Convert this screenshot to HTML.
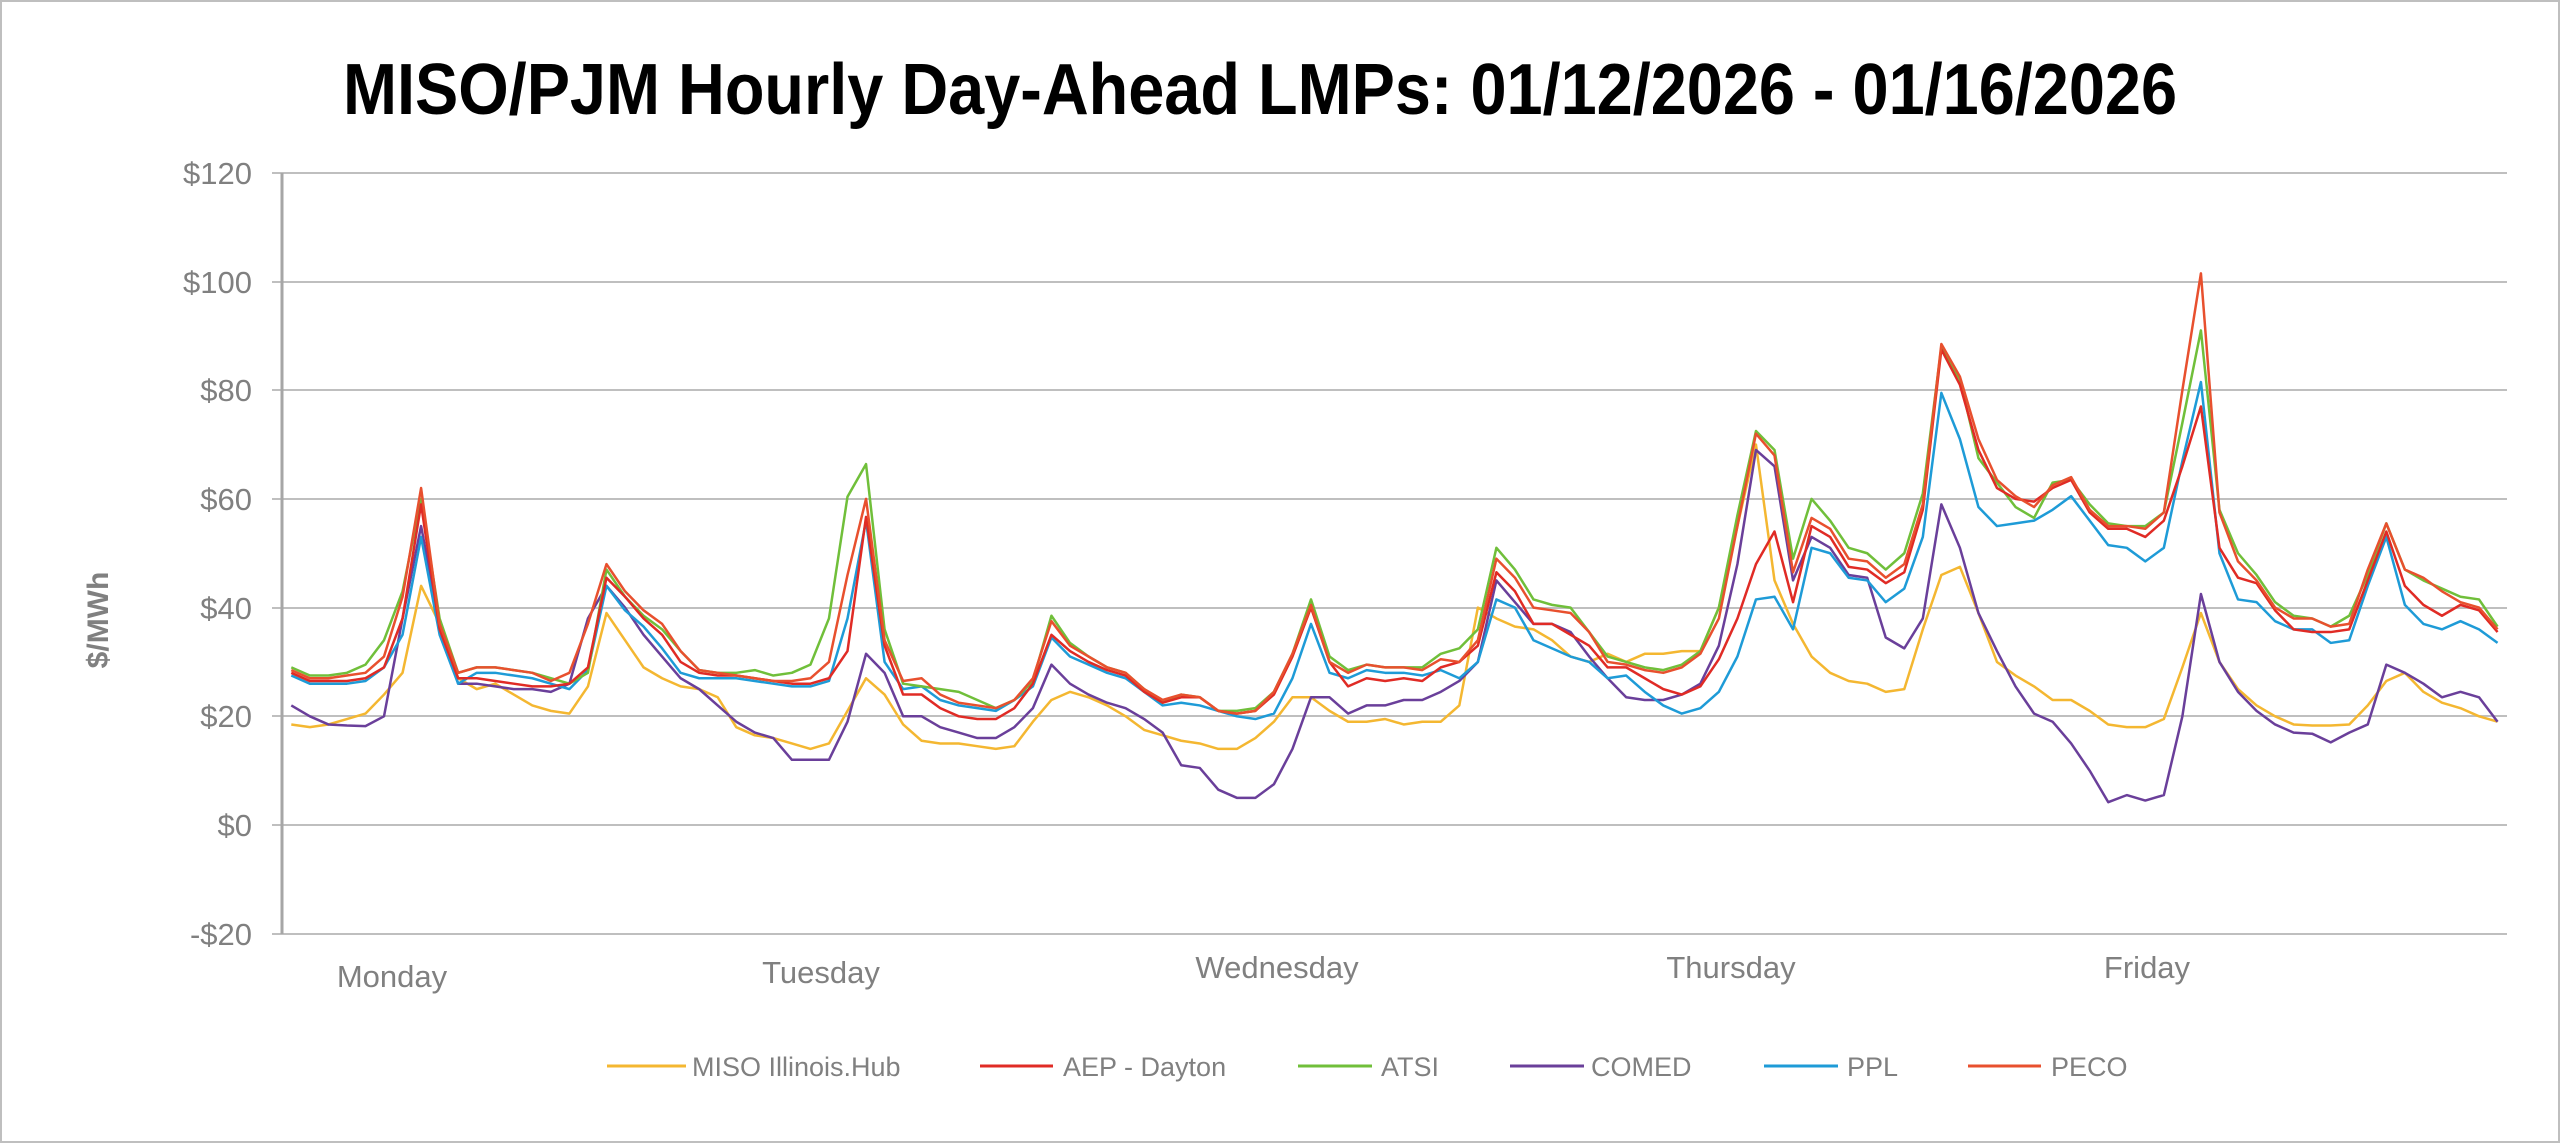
<!DOCTYPE html>
<html><head><meta charset="utf-8"><style>
html,body{margin:0;padding:0;background:#fff}
svg{display:block}
text{font-family:"Liberation Sans",sans-serif}
</style></head><body>
<svg width="2560" height="1143" viewBox="0 0 2560 1143" xmlns="http://www.w3.org/2000/svg">
<rect x="1" y="1" width="2558" height="1141" fill="#fff" stroke="#bfbfbf" stroke-width="2"/>
<text x="1260" y="114" text-anchor="middle" font-size="72" font-weight="bold" fill="#000" textLength="1834" lengthAdjust="spacingAndGlyphs">MISO/PJM Hourly Day-Ahead LMPs: 01/12/2026 - 01/16/2026</text>
<g stroke="#bfbfbf" stroke-width="2">
<line x1="272" y1="173" x2="2507" y2="173"/>
<line x1="272" y1="282" x2="2507" y2="282"/>
<line x1="272" y1="390" x2="2507" y2="390"/>
<line x1="272" y1="499" x2="2507" y2="499"/>
<line x1="272" y1="608" x2="2507" y2="608"/>
<line x1="272" y1="716" x2="2507" y2="716"/>
<line x1="272" y1="825" x2="2507" y2="825"/>
<line x1="272" y1="934" x2="2507" y2="934"/>
</g>
<line x1="282" y1="173" x2="282" y2="934" stroke="#a6a6a6" stroke-width="3"/>
<g font-size="31" fill="#808080" text-anchor="end">
<text x="252" y="184">$120</text>
<text x="252" y="293">$100</text>
<text x="252" y="401">$80</text>
<text x="252" y="510">$60</text>
<text x="252" y="619">$40</text>
<text x="252" y="727">$20</text>
<text x="252" y="836">$0</text>
<text x="252" y="945">-$20</text>
</g>
<text transform="translate(108,620) rotate(-90)" text-anchor="middle" font-size="30" font-weight="bold" fill="#808080">$/MWh</text>
<g font-size="31" fill="#808080" text-anchor="middle">
<text x="392" y="987">Monday</text>
<text x="821" y="983">Tuesday</text>
<text x="1277" y="978">Wednesday</text>
<text x="1731" y="978">Thursday</text>
<text x="2147" y="978">Friday</text>
</g>
<g transform="translate(291.3,825) scale(18.54,-5.435)" fill="none" stroke-linejoin="round">
<polyline vector-effect="non-scaling-stroke" stroke="#F4B731" stroke-width="2.5" points="0,18.5 1,18 2,18.5 3,19.5 4,20.5 5,24 6,28 7,44 8,37 9,27 10,25 11,26 12,24 13,22 14,21 15,20.5 16,25.5 17,39 18,34 19,29 20,27 21,25.5 22,25 23,23.5 24,18 25,16.5 26,16 27,15 28,14 29,15 30,21 31,27 32,24 33,18.5 34,15.5 35,15 36,15 37,14.5 38,14 39,14.5 40,19 41,23 42,24.5 43,23.5 44,22 45,20 46,17.5 47,16.5 48,15.5 49,15 50,14 51,14 52,16 53,19 54,23.5 55,23.5 56,21 57,19 58,19 59,19.5 60,18.5 61,19 62,19 63,22 64,40 65,38 66,36.5 67,36 68,34 69,31 70,30 71,31.5 72,30 73,31.5 74,31.5 75,32 76,32 77,40 78,55 79,70 80,45 81,37 82,31 83,28 84,26.5 85,26 86,24.5 87,25 88,36 89,46 90,47.5 91,39 92,30 93,27.5 94,25.5 95,23 96,23 97,21 98,18.5 99,18 100,18 101,19.5 102,29 103,39 104,30 105,25 106,22 107,20 108,18.5 109,18.3 110,18.3 111,18.5 112,22 113,26.5 114,28 115,24.5 116,22.5 117,21.5 118,20 119,19"/>
<polyline vector-effect="non-scaling-stroke" stroke="#6A3F9A" stroke-width="2.5" points="0,22 1,20 2,18.5 3,18.3 4,18.2 5,20 6,38 7,55 8,37 9,26 10,26 11,25.5 12,25 13,25 14,24.5 15,26 16,38 17,44 18,40 19,35 20,31 21,27 22,25 23,22 24,19 25,17 26,16 27,12 28,12 29,12 30,19 31,31.5 32,28 33,20 34,20 35,18 36,17 37,16 38,16 39,18 40,21.5 41,29.5 42,26 43,24 44,22.5 45,21.5 46,19.5 47,17 48,11 49,10.5 50,6.5 51,5 52,5 53,7.5 54,14 55,23.5 56,23.5 57,20.5 58,22 59,22 60,23 61,23 62,24.5 63,26.5 64,30 65,45 66,41 67,37 68,37 69,35.5 70,31 71,27 72,23.5 73,23 74,23 75,24 76,26 77,33 78,48 79,69 80,66 81,45 82,53 83,51 84,46 85,45.5 86,34.5 87,32.5 88,38 89,59 90,51 91,39 92,32 93,25.5 94,20.5 95,19 96,15 97,10 98,4.2 99,5.5 100,4.5 101,5.5 102,20 103,42.5 104,30 105,24.5 106,21 107,18.5 108,17 109,16.8 110,15.2 111,17 112,18.5 113,29.5 114,28 115,26 116,23.5 117,24.5 118,23.5 119,19"/>
<polyline vector-effect="non-scaling-stroke" stroke="#1E9BD7" stroke-width="2.5" points="0,27.5 1,26 2,26 3,26 4,26.5 5,29 6,35 7,53 8,35 9,26 10,28 11,28 12,27.5 13,27 14,26 15,25 16,28.5 17,44 18,39.5 19,36.5 20,32.5 21,28 22,27 23,27 24,27 25,26.5 26,26 27,25.5 28,25.5 29,26.5 30,38 31,56 32,30 33,25 34,25.5 35,23 36,22 37,21.5 38,21 39,23 40,25.5 41,34.5 42,31 43,29.5 44,28 45,27 46,24.5 47,22 48,22.5 49,22 50,21 51,20 52,19.5 53,20.5 54,27 55,37 56,28 57,27 58,28.5 59,28 60,28 61,27.5 62,28.5 63,27 64,30 65,41.5 66,40 67,34 68,32.5 69,31 70,30 71,27 72,27.5 73,24.5 74,22 75,20.5 76,21.5 77,24.5 78,31 79,41.5 80,42 81,36 82,51 83,50 84,45.5 85,45 86,41 87,43.5 88,53 89,79.5 90,71 91,58.5 92,55 93,55.5 94,56 95,58 96,60.5 97,56 98,51.5 99,51 100,48.5 101,51 102,67 103,81.5 104,50 105,41.5 106,41 107,37.5 108,36 109,36 110,33.5 111,34 112,44 113,53 114,40.5 115,37 116,36 117,37.5 118,36 119,33.5"/>
<polyline vector-effect="non-scaling-stroke" stroke="#70BF3A" stroke-width="2.5" points="0,29 1,27.5 2,27.5 3,28 4,29.5 5,34 6,43 7,60 8,38 9,28 10,29 11,29 12,28.5 13,28 14,27 15,26 16,28 17,47 18,42 19,38.5 20,36 21,32 22,28.5 23,28 24,28 25,28.5 26,27.5 27,28 28,29.5 29,38 30,60.4 31,66.4 32,36 33,26 34,25.5 35,25 36,24.5 37,23 38,21.5 39,23 40,26.5 41,38.5 42,33.5 43,31 44,29 45,28 46,25 47,22.5 48,24 49,23.5 50,21 51,21 52,21.5 53,24.5 54,31.5 55,41.5 56,31 57,28.5 58,29.5 59,29 60,29 61,29 62,31.5 63,32.5 64,36 65,51 66,47 67,41.5 68,40.5 69,40 70,35.5 71,31 72,30 73,29 74,28.5 75,29.5 76,32 77,40 78,57 79,72.5 80,69 81,49 82,60 83,56 84,51 85,50 86,47 87,50 88,61 89,88 90,82 91,67.5 92,63 93,58.5 94,56.5 95,63 96,63.5 97,59 98,55.5 99,55 100,55 101,57.5 102,74 103,91 104,58 105,50 106,46 107,41 108,38.5 109,38 110,36.5 111,38.5 112,46 113,55.5 114,47 115,45 116,43.5 117,42 118,41.5 119,36.5"/>
<polyline vector-effect="non-scaling-stroke" stroke="#E02B25" stroke-width="2.5" points="0,28 1,26.5 2,26.5 3,26.5 4,27 5,29 6,38 7,59 8,36 9,27 10,27 11,26.5 12,26 13,25.5 14,25.5 15,26 16,29 17,45.5 18,42 19,38 20,35 21,30 22,28 23,27.5 24,27.5 25,27 26,26.5 27,26 28,26 29,27 30,32 31,56.7 32,33 33,24 34,24 35,21.5 36,20 37,19.5 38,19.5 39,21.5 40,26 41,35 42,32 43,30 44,28.5 45,27.5 46,24.5 47,22.5 48,23.5 49,23.5 50,21 51,20.5 52,21 53,24 54,31 55,40 56,30 57,25.5 58,27 59,26.5 60,27 61,26.5 62,29 63,30 64,33 65,46.5 66,43 67,37 68,37 69,35 70,33 71,29 72,29 73,27 74,25 75,24 76,25.5 77,30.5 78,38 79,48 80,54 81,41 82,55 83,53 84,47.5 85,47 86,44.5 87,46.5 88,58 89,87.5 90,81 91,69 92,62 93,60 94,59.5 95,62 96,63.5 97,57.5 98,54.5 99,54.5 100,53 101,56 102,66 103,77 104,51 105,45.5 106,44.5 107,39.5 108,36 109,35.5 110,35.5 111,36 112,45 113,54 114,44 115,40.5 116,38.5 117,40.5 118,39.5 119,35.5"/>
<polyline vector-effect="non-scaling-stroke" stroke="#E8502E" stroke-width="2.5" points="0,28.5 1,27 2,27 3,27.5 4,28 5,31 6,42 7,62 8,37 9,28 10,29 11,29 12,28.5 13,28 14,26.5 15,28 16,37 17,48 18,43 19,39.5 20,37 21,32 22,28.5 23,28 24,27.5 25,27 26,26.5 27,26.5 28,27 29,30 30,46 31,60 32,34 33,26.5 34,27 35,24 36,22.5 37,22 38,21.5 39,23 40,27 41,37.5 42,33 43,31 44,29 45,28 46,25 47,23 48,24 49,23.5 50,21 51,20.5 52,21 53,24.5 54,31.5 55,40.5 56,30 57,28 58,29.5 59,29 60,29 61,28.5 62,30.5 63,30 64,34 65,49 66,45.5 67,40 68,39.5 69,39 70,35.5 71,30 72,29.5 73,28.5 74,28 75,29 76,31.5 77,38 78,55 79,72 80,68 81,46.5 82,56.5 83,54.5 84,49 85,48.5 86,45.5 87,48 88,59 89,88.5 90,82.5 91,71 92,63.5 93,60.5 94,58.5 95,62.5 96,64 97,58 98,55 99,55 100,54.5 101,57.5 102,80 103,101.5 104,57.5 105,48.5 106,45 107,40 108,38 109,38 110,36.5 111,37 112,47 113,55.5 114,47 115,45.5 116,43 117,41 118,40 119,36"/>
</g>
<g stroke-width="3">
<line x1="607" y1="1066" x2="686" y2="1066" stroke="#F4B731"/>
<line x1="980" y1="1066" x2="1053" y2="1066" stroke="#E02B25"/>
<line x1="1298" y1="1066" x2="1372" y2="1066" stroke="#70BF3A"/>
<line x1="1510" y1="1066" x2="1584" y2="1066" stroke="#6A3F9A"/>
<line x1="1764" y1="1066" x2="1838" y2="1066" stroke="#1E9BD7"/>
<line x1="1968" y1="1066" x2="2041" y2="1066" stroke="#E8502E"/>
</g>
<g font-size="27" fill="#808080">
<text x="692" y="1076">MISO Illinois.Hub</text>
<text x="1063" y="1076">AEP - Dayton</text>
<text x="1381" y="1076">ATSI</text>
<text x="1591" y="1076">COMED</text>
<text x="1847" y="1076">PPL</text>
<text x="2051" y="1076">PECO</text>
</g>
</svg>
</body></html>
